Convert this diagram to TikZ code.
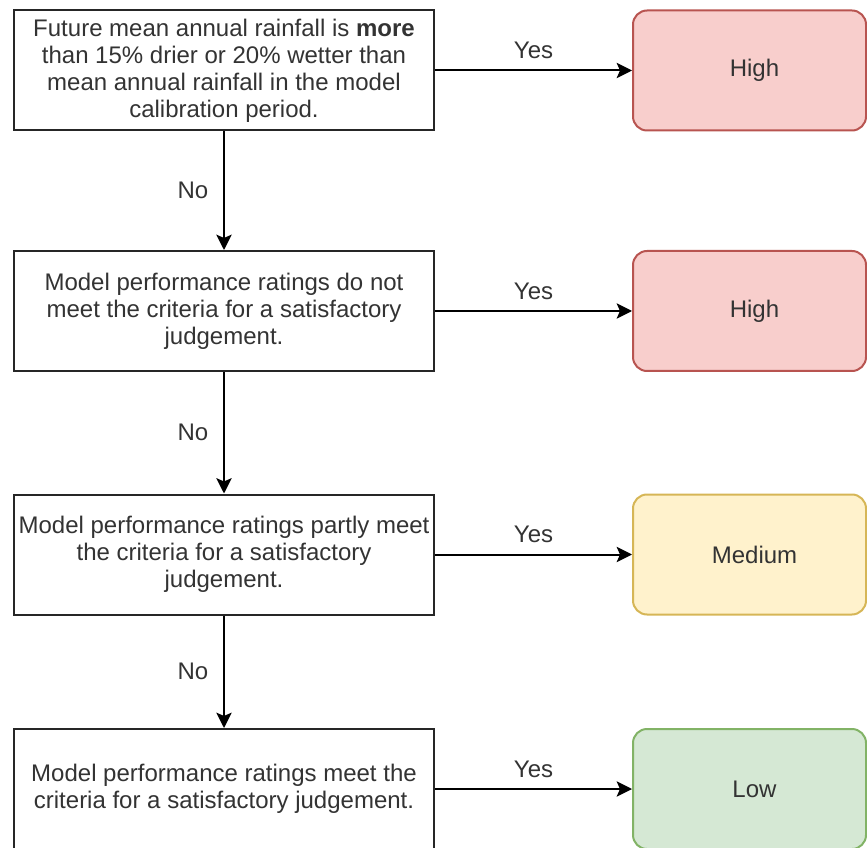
\documentclass[tikz,border=0pt]{standalone}
\usepackage{fontspec}
\setmainfont{Liberation Sans}
\usetikzlibrary{arrows.meta}

\definecolor{highfill}{HTML}{F8CECC}
\definecolor{highline}{HTML}{B85450}
\definecolor{medfill}{HTML}{FFF2CC}
\definecolor{medline}{HTML}{D6B656}
\definecolor{lowfill}{HTML}{D5E8D4}
\definecolor{lowline}{HTML}{82B366}
\definecolor{inktext}{HTML}{333333}

\begin{document}
\begin{tikzpicture}[x=0.75pt,y=-0.75pt,
  basefont/.style={font=\fontsize{18}{20.25}\selectfont, text=inktext},
  question/.style={basefont, draw=black!85, line width=1.5pt, fill=white,
    minimum width=315pt, minimum height=90pt, inner sep=0pt, align=center},
  outcome/.style={basefont, rounded corners=10.5pt, line width=1.5pt,
    minimum width=174.75pt, minimum height=90pt, inner sep=0pt,
    execute at begin node=\hspace*{7.5pt}},
  high/.style={outcome, draw=highline, fill=highfill},
  medium/.style={outcome, draw=medline, fill=medfill},
  low/.style={outcome, draw=lowline, fill=lowfill},
  flow/.style={line width=1.5pt, draw=black,
    -{Stealth[length=11.5pt,width=11.5pt,inset=2.5pt]}},
  yeslbl/.style={basefont, inner sep=0pt, midway, yshift=15pt},
  nolbl/.style={basefont, inner sep=0pt, midway, xshift=-23.25pt}
]
\useasboundingbox (0,0) rectangle (867,848);

% decision boxes
\node[question] (q1) at (224,70.5) {Future mean annual rainfall is \textbf{more}\\than 15\% drier or 20\% wetter than\\mean annual rainfall in the model\\calibration period.};
\node[question] (q2) at (224,311) {Model performance ratings do not\\meet the criteria for a satisfactory\\judgement.};
\node[question] (q3) at (224,554.5) {Model performance ratings partly meet\\the criteria for a satisfactory\\judgement.};
\node[question] (q4) at (224,789) {Model performance ratings meet the\\criteria for a satisfactory judgement.};

% outcome boxes
\node[high]   (r1) at (749.5,70.5)  {High};
\node[high]   (r2) at (749.5,311)   {High};
\node[medium] (r3) at (749.5,554.5) {Medium};
\node[low]    (r4) at (749.5,789)   {Low};

% "Yes" branches
\draw[flow] (q1) -- node[yeslbl] {Yes} (r1);
\draw[flow] (q2) -- node[yeslbl] {Yes} (r2);
\draw[flow] (q3) -- node[yeslbl] {Yes} (r3);
\draw[flow] (q4) -- node[yeslbl] {Yes} (r4);

% "No" branches
\draw[flow] (q1) -- node[nolbl] {No} (q2);
\draw[flow] (q2) -- node[nolbl] {No} (q3);
\draw[flow] (q3) -- node[nolbl] {No} (q4);
\end{tikzpicture}
\end{document}
